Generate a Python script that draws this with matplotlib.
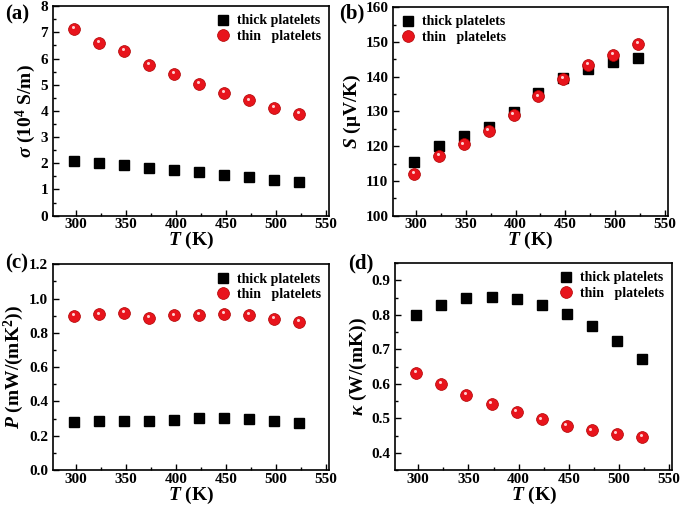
import numpy as np
import matplotlib
matplotlib.use('Agg')
import matplotlib.pyplot as plt
from matplotlib import rcParams
from matplotlib.ticker import AutoMinorLocator
import matplotlib.transforms as mtransforms

rcParams['font.family'] = 'serif'
rcParams['font.serif'] = ['Liberation Serif', 'DejaVu Serif']
rcParams['font.weight'] = 'bold'
rcParams['axes.labelweight'] = 'bold'
rcParams['mathtext.fontset'] = 'custom'
rcParams['mathtext.rm'] = 'Liberation Serif:bold'
rcParams['mathtext.it'] = 'Liberation Serif:italic:bold'
rcParams['mathtext.bf'] = 'Liberation Serif:bold'
rcParams['xtick.direction'] = 'in'
rcParams['ytick.direction'] = 'in'
rcParams['axes.linewidth'] = 1.2

# Data.

T = [298, 323, 348, 373, 398, 423, 448, 473, 498, 523]

sigma_thick = [2.10, 2.01, 1.92, 1.82, 1.74, 1.65, 1.56, 1.46, 1.36, 1.29]
sigma_thin  = [7.13, 6.60, 6.30, 5.75, 5.42, 5.02, 4.70, 4.40, 4.12, 3.88]

S_thick = [115.3, 120.0, 122.8, 125.6, 129.8, 135.2, 139.6, 142.2, 144.3, 145.5]
S_thin  = [112.0, 117.2, 120.5, 124.3, 129.0, 134.3, 139.3, 143.3, 146.3, 149.5]

P_thick = [0.282, 0.288, 0.288, 0.287, 0.292, 0.302, 0.304, 0.296, 0.285, 0.275]
P_thin  = [0.897, 0.907, 0.915, 0.888, 0.902, 0.905, 0.912, 0.903, 0.881, 0.866]

k_thick = [0.801, 0.830, 0.848, 0.853, 0.847, 0.830, 0.804, 0.768, 0.723, 0.671]
k_thin  = [0.632, 0.599, 0.568, 0.542, 0.518, 0.497, 0.479, 0.465, 0.455, 0.447]

panels = [
    ('(a)', sigma_thick, sigma_thin, r'$\sigma$ (10$^4$ S/m)', (0, 8), [0, 1, 2, 3, 4, 5, 6, 7, 8], '%d',
     [0.0774, 0.578, 0.403, 0.410], 'upper right', (0.025, 0.972)),
    ('(b)', S_thick, S_thin, r'$S$ ($\mathrm{\mu}$V/K)', (100, 160), [100, 110, 120, 130, 140, 150, 160], '%d',
     [0.574, 0.578, 0.401, 0.408], 'upper left', (0.513, 0.974)),
    ('(c)', P_thick, P_thin, r'$P$ (mW/(mK$^2$))', (0, 1.2), [0, 0.2, 0.4, 0.6, 0.8, 1.0, 1.2], '%.1f',
     [0.0774, 0.080, 0.403, 0.403], 'upper right', (0.025, 0.485)),
    ('(d)', k_thick, k_thin, r'$\kappa$ (W/(mK))', (0.35, 0.95), [0.4, 0.5, 0.6, 0.7, 0.8, 0.9], '%.1f',
     [0.577, 0.080, 0.404, 0.405], 'upper right', (0.527, 0.485)),
]

x_ticks = [300, 350, 400, 450, 500, 550]

fig = plt.figure(figsize=(6.85, 5.11), dpi=100)

for tag, thick, thin, ylabel, ylim, yticks, fmt, rect, loc, tagpos in panels:
    ax = fig.add_axes(rect)
    ax.plot(T, thick, 's', color='black', ms=7, label='thick platelets')
    ax.plot(T, thin, 'o', color='#e8141c', mec='#b00000', mew=0.5, ms=8.5,
            label='thin   platelets')
    # little highlight so the red points look like shaded balls
    shine = mtransforms.offset_copy(ax.transData, fig=fig, x=-1.0, y=1.3, units='points')
    ax.plot(T, thin, 'o', color='#ffd0d0', ms=2.2, mew=0, transform=shine)

    ax.set_xlim(277, 553)
    ax.set_ylim(*ylim)
    ax.set_xticks(x_ticks)
    ax.set_yticks(yticks)
    ax.set_yticklabels([fmt % v for v in yticks])
    ax.xaxis.set_minor_locator(AutoMinorLocator(2))
    ax.yaxis.set_minor_locator(AutoMinorLocator(2))
    ax.tick_params(which='major', length=4, width=1, labelsize=11)
    ax.tick_params(axis='x', pad=2)
    ax.tick_params(which='minor', length=2, width=1)
    ax.set_xlabel(r'$T$ (K)', fontsize=14, labelpad=-1)
    ax.set_ylabel(ylabel, fontsize=14, labelpad=2)

    ax.legend(loc=loc, frameon=False, fontsize=10, handletextpad=0.5,
              borderaxespad=0.2, labelspacing=0.2, handlelength=1.0)

    fig.text(tagpos[0], tagpos[1], tag, fontsize=15, fontweight='bold',
             ha='center', va='center')

fig.savefig('out.png', dpi=100)
